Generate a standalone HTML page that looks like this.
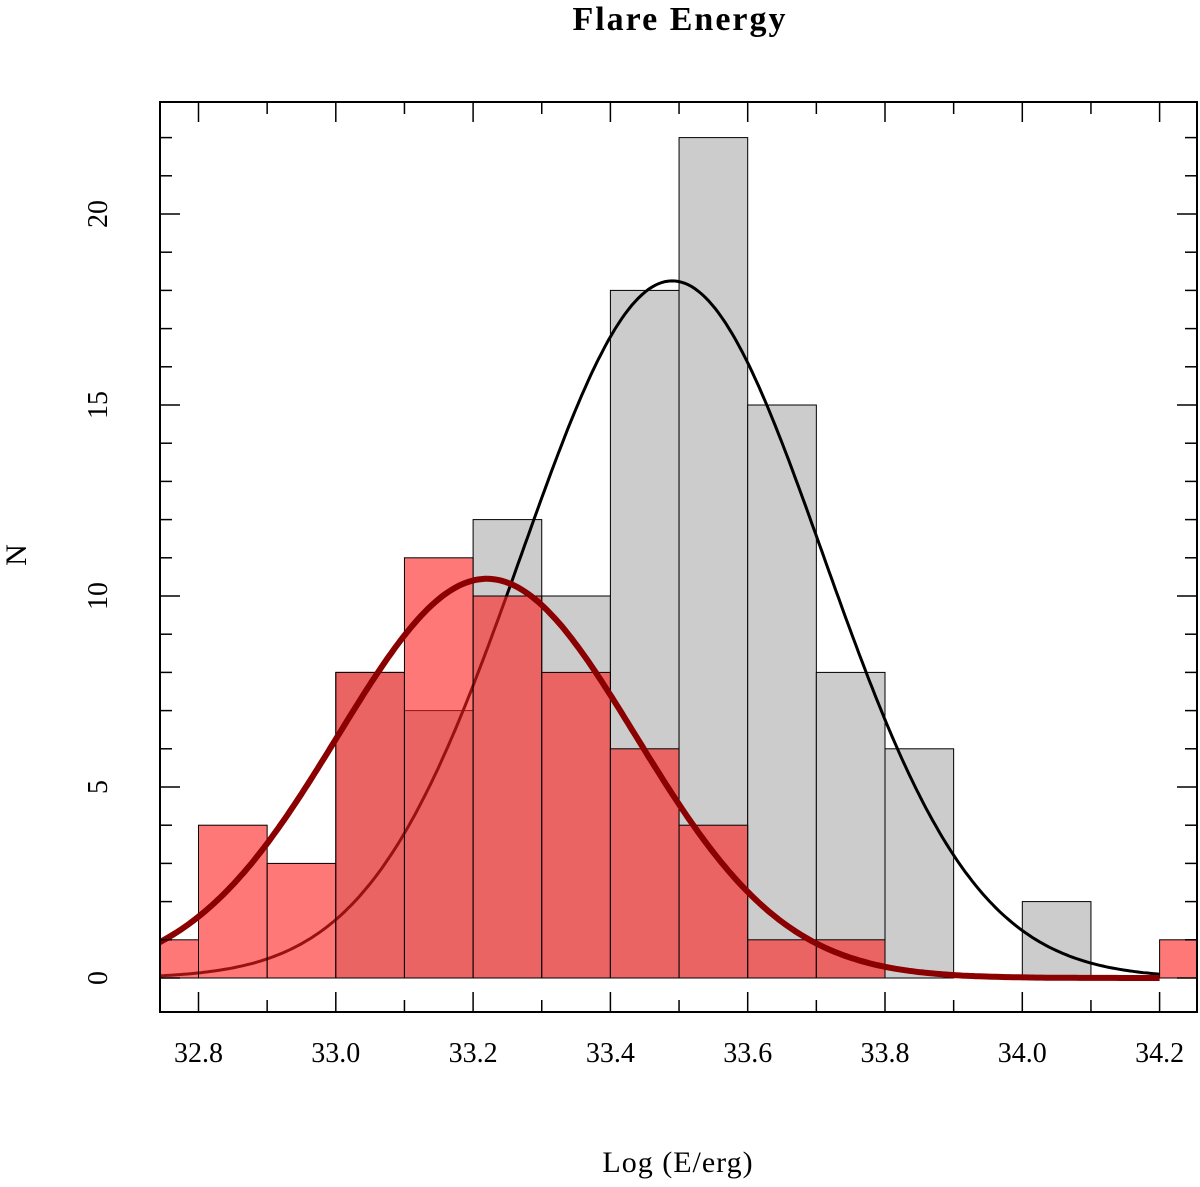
<!DOCTYPE html>
<html><head><meta charset="utf-8"><style>
body{margin:0;background:#fff}
svg text{font-family:"Liberation Serif",serif;fill:#000}
</style></head><body>
<svg width="1200" height="1182" viewBox="0 0 1200 1182" xmlns="http://www.w3.org/2000/svg">
<defs><clipPath id="pc"><rect x="160" y="102" width="1037" height="910"/></clipPath></defs>
<text x="680" y="30" font-size="34" font-weight="bold" text-anchor="middle" letter-spacing="2">Flare Energy</text>
<g id="plot" clip-path="url(#pc)"></g>
<g id="axes"></g>
<text x="678" y="1172" font-size="30" text-anchor="middle" letter-spacing="1">Log (E/erg)</text>
<text x="0" y="0" font-size="30" text-anchor="middle" transform="translate(26,555) rotate(-90)">N</text>
</svg>
<script>
const binStarts=[32.7,32.8,32.9,33.0,33.1,33.2,33.3,33.4,33.5,33.6,33.7,33.8,33.9,34.0,34.1,34.2];
const grayCounts=[0,0,0,8,7,12,10,18,22,15,8,6,0,2,0,0];
const redCounts=[1,4,3,8,11,10,8,6,4,1,1,0,0,0,0,1];
const grayFit=[18.25,33.49,0.22];
const redFit=[10.45,33.22,0.217];
const xTicks=[32.8,33.0,33.2,33.4,33.6,33.8,34.0,34.2];
const yTicks=[0,5,10,15,20];
const binW=0.1;
const X=v=>198.5+(v-32.8)*686.5;
const Y=v=>978-v*38.2;
const NS="http://www.w3.org/2000/svg";
const plot=document.getElementById('plot'),axes=document.getElementById('axes');
function mk(tag,attrs,parent){const e=document.createElementNS(NS,tag);for(const k in attrs)e.setAttribute(k,attrs[k]);parent.appendChild(e);return e;}
function bars(counts,fill,name){counts.forEach((c,i)=>{if(!c)return;
const r=mk('rect',{x:X(binStarts[i]),y:Y(c),width:X(binStarts[i]+binW)-X(binStarts[i]),height:Y(0)-Y(c),fill:fill,stroke:'#000','stroke-width':1},plot);

});}
function curve(p,x0,x1,stroke,w,name){let d='';for(let i=0;i<=300;i++){const x=x0+(x1-x0)*i/300;const y=p[0]*Math.exp(-Math.pow(x-p[1],2)/(2*p[2]*p[2]));d+=(i?'L':'M')+X(x).toFixed(1)+','+Y(y).toFixed(1);}
const e=mk('path',{d:d,fill:'none',stroke:stroke,'stroke-width':w},plot);

}
bars(grayCounts,'#cccccc','gray-bar');
curve(grayFit,32.74,34.2,'#000',3,'gray-gaussian-fit');
bars(redCounts,'rgba(255,30,30,0.6)','red-bar');
curve(redFit,32.74,34.2,'#8b0000',6,'red-gaussian-fit');
const fr=mk('rect',{x:160,y:102,width:1037,height:910,fill:'none',stroke:'#000','stroke-width':2},axes);


for(let v=32.8;v<=34.25;v+=0.1){const x=X(v);const maj=Math.abs((v-32.8)/0.2-Math.round((v-32.8)/0.2))<0.01;const L=maj?20:12;
mk('line',{x1:x,x2:x,y1:1012,y2:1012-L,stroke:'#000','stroke-width':1.5},axes);
mk('line',{x1:x,x2:x,y1:102,y2:102+L,stroke:'#000','stroke-width':1.5},axes);}
for(let v=0;v<=22;v++){const y=Y(v);const L=v%5===0?20:12;
mk('line',{x1:160,x2:160+L,y1:y,y2:y,stroke:'#000','stroke-width':1.5},axes);
mk('line',{x1:1197,x2:1197-L,y1:y,y2:y,stroke:'#000','stroke-width':1.5},axes);}
xTicks.forEach(v=>{const t=mk('text',{x:X(v),y:1062,'font-size':28,'text-anchor':'middle'},axes);t.textContent=v.toFixed(1);

});
yTicks.forEach(v=>{const t=mk('text',{x:0,y:0,'font-size':28,'text-anchor':'middle',transform:'translate(107,'+Y(v)+') rotate(-90)'},axes);t.textContent=v;

});
</script>
</body></html>
